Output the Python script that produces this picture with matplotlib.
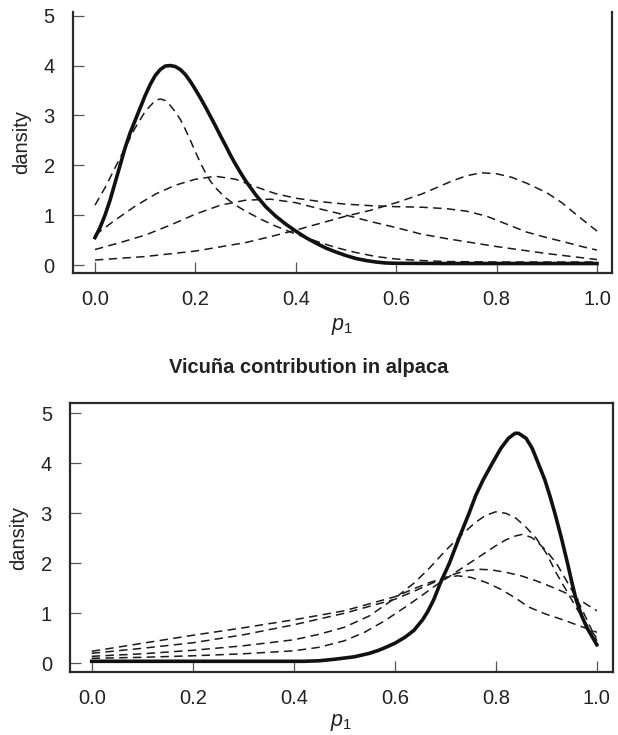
import matplotlib
matplotlib.use("Agg")
import matplotlib.pyplot as plt

plt.rcParams['font.family'] = ['Liberation Sans', 'DejaVu Sans']
plt.rcParams['mathtext.fontset'] = 'custom'
plt.rcParams['mathtext.it'] = 'Liberation Sans:italic'
plt.rcParams['mathtext.rm'] = 'Liberation Sans'

# ---- top panel ----
top_solid_x = [0, .01, .02, .03, .04, .05, .06, .07, .08, .09, .10, .11, .12, .13, .14, .15, .16, .17, .18,
               .19, .20, .21, .22, .23, .24, .25, .26, .27, .28, .29, .30, .32, .34, .36, .38, .40, .42, .44,
               .46, .48, .50, .52, .54, .56, .58, .60, .70, .80, .90, 1.0]
top_solid_y = [.55, .75, 1.0, 1.3, 1.65, 2.0, 2.35, 2.65, 2.9, 3.15, 3.4, 3.62, 3.8, 3.92, 3.99, 4.0, 3.98,
               3.92, 3.82, 3.68, 3.52, 3.35, 3.17, 2.98, 2.79, 2.59, 2.4, 2.2, 2.02, 1.85, 1.69, 1.41, 1.17,
               .98, .82, .68, .55, .44, .34, .26, .19, .13, .09, .06, .04, .035, .03, .03, .03, .03]

top_a_x = [0, .02, .04, .06, .08, .10, .12, .13, .14, .15, .16, .17, .18, .19, .20, .21, .22, .23, .24, .26,
           .28, .30, .33, .36, .40, .44, .48, .52, .56, .60, .65, .70, .80, .90, 1.0]
top_a_y = [1.2, 1.55, 1.95, 2.35, 2.75, 3.08, 3.3, 3.33, 3.3, 3.2, 3.07, 2.92, 2.72, 2.5, 2.27, 2.05, 1.85,
           1.68, 1.55, 1.35, 1.2, 1.08, .92, .78, .62, .48, .35, .25, .17, .12, .09, .07, .06, .06, .06]

top_b_x = [0, .04, .08, .12, .16, .20, .24, .28, .32, .36, .40, .45, .50, .55, .60, .65, .70, .74, .78, .82,
           .86, .90, .94, .97, 1.0]
top_b_y = [.6, .9, 1.18, 1.42, 1.6, 1.72, 1.78, 1.72, 1.57, 1.43, 1.34, 1.27, 1.22, 1.19, 1.17, 1.16, 1.13,
           1.08, .98, .82, .66, .55, .45, .37, .3]

top_c_x = [0, .05, .10, .15, .20, .25, .30, .35, .40, .45, .50, .55, .60, .65, .70, .75, .80, .85, .90, .95, 1.0]
top_c_y = [.31, .45, .6, .8, 1.02, 1.2, 1.3, 1.32, 1.25, 1.12, 1.0, .87, .75, .62, .53, .45, .37, .3, .23, .17, .11]

top_d_x = [0, .1, .2, .3, .35, .4, .45, .5, .55, .6, .65, .68, .71, .74, .77, .80, .83, .86, .9, .93, .96, 1.0]
top_d_y = [.1, .17, .28, .45, .57, .7, .84, .98, 1.1, 1.25, 1.42, 1.55, 1.68, 1.79, 1.85, 1.83, 1.76, 1.64,
           1.45, 1.25, 1.0, .68]

# ---- bottom panel ----
bot_solid_x = [0, .1, .2, .3, .4, .42, .45, .48, .52, .55, .568, .58, .6, .62, .638, .655, .665, .677, .69,
               .708, .727, .747, .76, .775, .793, .81, .825, .838, .845, .86, .872, .884, .897, .907, .917,
               .93, .942, .951, .959, .97, .98, 1.0]
bot_solid_y = [.04, .04, .04, .04, .04, .04, .05, .08, .13, .2, .26, .31, .4, .52, .66, .87, 1.03, 1.27, 1.6,
               2.0, 2.5, 3.0, 3.35, 3.67, 4.0, 4.3, 4.5, 4.6, 4.6, 4.5, 4.3, 4.0, 3.67, 3.35, 3.0, 2.5, 2.0,
               1.6, 1.27, .95, .72, .37]

bot_e_x = [0, .1, .2, .3, .4, .45, .5, .55, .6, .64, .67, .7, .73, .76, .78, .80, .82, .84, .86, .88, .90,
           .92, .94, .96, .98, 1.0]
bot_e_y = [.14, .19, .26, .35, .47, .58, .72, .95, 1.3, 1.62, 1.92, 2.25, 2.55, 2.82, 2.96, 3.03, 3.0, 2.9,
           2.72, 2.5, 2.2, 1.8, 1.45, 1.1, .78, .5]

bot_f_x = [0, .1, .2, .3, .4, .45, .5, .54, .58, .62, .65, .68, .71, .74, .77, .80, .82, .84, .853, .87,
           .88, .90, .92, .94, .96, .98, 1.0]
bot_f_y = [.1, .12, .15, .19, .25, .32, .45, .62, .85, 1.12, 1.33, 1.55, 1.75, 1.95, 2.15, 2.35, 2.47, 2.55,
           2.58, 2.52, 2.45, 2.25, 2.0, 1.65, 1.3, .88, .45]

bot_g_x = [0, .1, .2, .3, .4, .5, .6, .64, .68, .71, .74, .767, .79, .82, .85, .88, .91, .94, .97, 1.0]
bot_g_y = [.2, .3, .41, .57, .77, 1.0, 1.28, 1.45, 1.63, 1.76, 1.85, 1.88, 1.87, 1.82, 1.75, 1.65, 1.53,
           1.4, 1.24, 1.05]

bot_h_x = [0, .1, .2, .3, .4, .5, .6, .64, .67, .70, .724, .75, .78, .81, .84, .864, .90, .93, .96, 1.0]
bot_h_y = [.24, .4, .56, .71, .87, 1.05, 1.33, 1.5, 1.62, 1.71, 1.75, 1.72, 1.62, 1.48, 1.3, 1.13, .98,
           .88, .77, .62]

xticks = [0.0, 0.2, 0.4, 0.6, 0.8, 1.0]
yticks = [0, 1, 2, 3, 4, 5]

fig = plt.figure(figsize=(6.18, 7.35), dpi=100)
ax1 = fig.add_axes([72.7/618, 1-273.3/735, (612.3-72.7)/618, (273.3-11.7)/735])
ax2 = fig.add_axes([70/618, 1-672.3/735, (613-70)/618, (672.3-403.3)/735])

dash = dict(color='#1a1a1a', lw=1.1, linestyle=(0, (5.5, 3.5)))
solid = dict(color='#111111', lw=2.6, solid_joinstyle='round')

for xs, ys in [(top_a_x, top_a_y), (top_b_x, top_b_y), (top_c_x, top_c_y), (top_d_x, top_d_y)]:
    ax1.plot(xs, ys, **dash)
ax1.plot(top_solid_x, top_solid_y, **solid)

for xs, ys in [(bot_e_x, bot_e_y), (bot_f_x, bot_f_y), (bot_g_x, bot_g_y), (bot_h_x, bot_h_y)]:
    ax2.plot(xs, ys, **dash)
ax2.plot(bot_solid_x, bot_solid_y, **solid)

ax1.set_xlim(-0.0444, 1.0305)
ax1.set_ylim(-0.166, 5.08)
ax2.set_xlim(-0.043, 1.032)
ax2.set_ylim(-0.18, 5.2)
ax1.spines['top'].set_visible(False)

for ax in (ax1, ax2):
    ax.set_xticks(xticks)
    ax.set_xticklabels(['%.1f' % t for t in xticks])
    ax.set_yticks(yticks)
    ax.tick_params(direction='in', length=8, width=0.9, color='#555555',
                   labelsize=14.5, labelcolor='#222222')
    ax.tick_params(axis='x', pad=12)
    ax.tick_params(axis='y', pad=13)
    for s in ax.spines.values():
        s.set_linewidth(1.6)
        s.set_color('#2a2a2a')
    ax.set_ylabel('dansity', fontsize=14.5, color='#222222', labelpad=9)

ax1.set_xlabel(r'$p_1$', fontsize=15.5, color='#222222', labelpad=5)
ax2.set_xlabel(r'$p_1$', fontsize=15.5, color='#222222', labelpad=3)

fig.text(0.5, 1-367/735, 'Vicuña contribution in alpaca', ha='center', va='center',
         fontsize=14.5, fontweight='bold', color='#222222')

fig.savefig('out.png', dpi=100)
